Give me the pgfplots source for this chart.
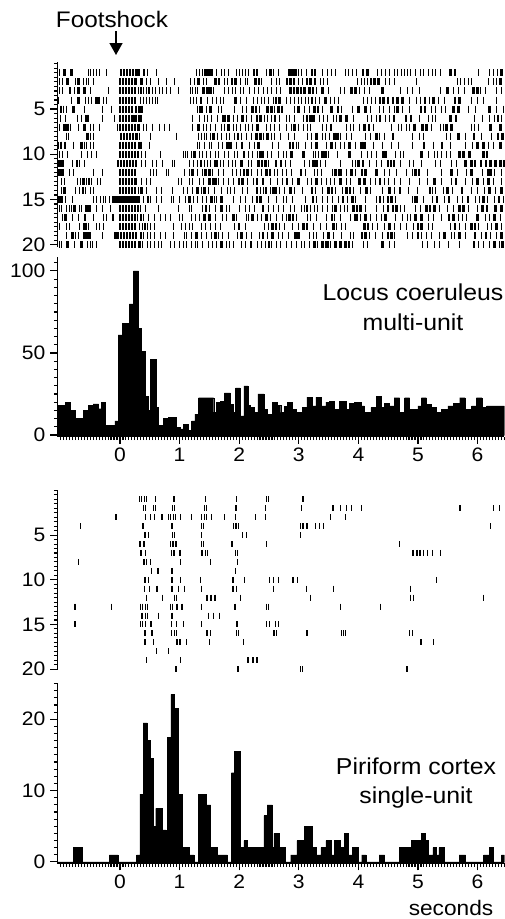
\documentclass[border=0pt]{standalone}
\usepackage{pgfplots}
\pgfplotsset{compat=1.18}
\usepackage{fontspec}
\setmainfont{Liberation Sans}[FakeStretch=1.08]
\usetikzlibrary{arrows.meta}

\makeatletter
\newcommand\rrow[4]{%
  \gdef\rr@pts{}%
  \foreach \t in {#2}{\xdef\rr@pts{\rr@pts(\t,#1)}}%
  \edef\rr@tmp{\noexpand\addplot[#4thin] coordinates {\rr@pts};}\rr@tmp
  \if\relax\detokenize{#3}\relax\else
  \gdef\rr@pts{}%
  \foreach \t in {#3}{\xdef\rr@pts{\rr@pts(\t,#1)}}%
  \edef\rr@tmp{\noexpand\addplot[#4thick] coordinates {\rr@pts};}\rr@tmp
  \fi}
\makeatother

\pgfplotsset{
  base/.style={scale only axis, width=447pt, xmin=-1.05, xmax=6.45,
    tick align=outside, major tick length=7pt, minor tick length=3.5pt,
    every tick/.style={black, line width=1.1pt},
    axis line style={line width=1.5pt},
    tick label style={font=\fontsize{19.5}{20}\selectfont},
    yticklabel style={xshift=-1.5pt},
    xticklabel style={yshift=-1pt},
    /pgf/number format/assume math mode=true},
  raster/.style={base, axis y line*=left, axis x line=none, y dir=reverse,
    xtick=\empty, ytick={5,10,15,20}, minor ytick={0,0.5,...,20}},
  hist/.style={base, axis y line*=left, axis x line*=bottom,
    xtick={0,...,6}, minor xtick={-1,-0.95,...,6.45}},
  lcthin/.style={only marks, mark=|, mark size=3.5pt, mark options={line width=1pt, black}},
  lcthick/.style={only marks, mark=|, mark size=3.5pt, mark options={line width=2.6pt, black}},
  pcthin/.style={only marks, mark=|, mark size=3pt, mark options={line width=0.9pt, black}},
  pcthick/.style={only marks, mark=|, mark size=3pt, mark options={line width=2pt, black}},
}

\begin{document}
\begin{tikzpicture}
\useasboundingbox (0pt,0pt) rectangle (505pt,-919pt);

% ---------- Locus coeruleus raster ----------
\begin{axis}[raster, at={(280.9pt,-154.5pt)}, anchor=center, height=185pt, ymin=-0.2, ymax=20.25]
\rrow{1}{-1.02,-0.53,-0.49,-0.44,-0.40,-0.34,-0.22,0.47,0.62,1.28,1.33,1.38,1.62,1.70,1.76,1.82,1.95,2.00,2.05,2.10,2.16,2.46,2.58,2.66,2.99,3.05,3.13,3.40,3.48,3.55,3.61,3.78,3.84,3.90,3.97,4.32,4.38,4.45,4.52,4.61,4.66,4.72,4.77,4.82,4.88,4.95,5.04,5.10,5.17,5.24,5.30,5.37,6.02,6.20,6.27,6.34}{-0.93,-0.81,0.02,0.07,0.12,0.17,0.22,0.27,0.31,0.40,1.43,1.49,1.54,2.25,2.30,2.53,2.84,2.89,2.94,3.22,3.27,4.08,4.15,5.55,5.62,6.40}{lc}
\rrow{2}{-1.01,-0.96,-0.75,-0.62,-0.57,-0.52,-0.45,0.45,0.51,0.64,0.78,0.92,1.18,1.25,1.40,1.46,1.75,1.80,2.02,2.10,2.14,2.38,2.55,2.62,2.68,2.99,3.06,3.36,3.42,3.48,3.98,4.06,4.11,4.16,4.45,4.52,4.60,4.98,5.66,5.72,5.78,5.85,5.90,6.18,6.26,6.31}{-0.88,-0.70,0.00,0.05,0.10,0.15,0.20,0.26,0.36,1.32,1.60,1.66,1.88,1.94,2.27,2.33,2.80,2.86,2.92,3.14,3.20,3.27,4.21,4.27,4.34,6.38}{lc}
\rrow{3}{-1.02,-0.97,-0.76,-0.58,-0.49,-0.20,0.31,0.40,0.45,0.54,0.60,0.66,0.72,0.78,0.85,0.98,1.18,1.22,1.27,1.30,1.57,1.75,1.82,1.88,1.93,2.02,2.08,2.18,2.26,2.32,2.40,2.47,2.55,2.62,2.70,3.30,3.50,3.70,3.76,4.02,4.10,4.18,4.70,4.82,4.90,5.02,5.38,5.60,5.68,5.78,6.05,6.14,6.32,6.40}{-0.84,-0.70,-0.60,0.00,0.05,0.10,0.15,0.20,0.25,0.35,0.49,1.40,1.47,1.52,2.86,2.92,2.98,3.04,3.10,3.18,3.24,3.40,3.88,3.95,4.40,5.50,5.93,6.00}{lc}
\rrow{4}{-1.03,-0.82,-0.72,-0.58,-0.52,-0.47,-0.28,-0.22,0.34,0.40,0.44,0.50,0.55,0.60,0.63,1.18,1.23,1.28,1.47,1.55,1.62,1.68,1.74,2.02,2.12,2.24,2.31,2.38,2.43,2.50,2.57,2.80,2.86,2.93,3.00,3.05,3.12,3.17,3.28,3.35,3.53,3.60,3.66,4.08,4.15,4.22,4.28,4.85,4.98,5.05,5.20,5.34,5.44,5.90,6.00,6.10,6.32}{-0.70,-0.40,-0.36,0.00,0.05,0.10,0.15,0.20,0.25,1.36,1.94,2.62,2.68,3.22,3.45,4.36,4.42,4.50,4.58,4.66,4.74,5.12,5.26,5.62,5.70}{lc}
\rrow{5}{-1.00,-0.95,-0.89,-0.60,-0.30,-0.14,0.31,0.38,1.30,1.39,1.46,1.66,1.71,1.92,2.05,2.12,2.34,2.60,2.92,3.10,3.18,3.40,3.72,3.90,4.20,4.36,4.42,4.52,4.60,4.74,4.85,5.22,5.30,5.40,5.47,5.84,5.96,6.32,6.44}{-0.99,-0.78,0.00,0.05,0.10,0.15,0.20,0.27,0.34,1.35,1.52,2.22,2.28,2.48,2.54,2.66,2.72,3.00,3.26,3.32,3.55,3.66,4.00,4.12,4.66,5.05,5.12,5.60,5.68,6.20}{lc}
\rrow{6}{-1.00,-0.92,-0.72,-0.65,-0.58,-0.52,-0.30,-0.10,0.36,1.22,1.34,1.41,1.47,1.54,1.64,1.72,1.91,1.98,2.12,2.20,2.43,2.48,2.55,2.67,2.79,2.85,2.92,3.08,3.35,3.42,3.48,3.58,3.64,3.92,4.16,4.22,4.30,4.46,4.52,5.02,5.18,5.24,5.30,5.95,6.08,6.20,6.28,6.40}{-0.56,0.00,0.05,0.10,0.15,0.21,0.26,0.33,1.75,1.82,2.06,2.30,2.36,2.60,3.14,3.20,3.25,3.70,3.80,4.36,4.60,4.80,4.88,5.55,5.64,6.34}{lc}
\rrow{7}{-1.02,-0.83,-0.70,-0.49,-0.44,-0.35,-0.04,0.39,0.45,0.55,0.66,0.74,0.83,1.21,1.40,1.46,1.52,1.60,1.70,1.76,1.90,1.96,2.02,2.10,2.16,2.22,2.46,2.52,2.60,2.68,2.80,2.87,3.00,3.08,3.15,3.20,3.40,3.46,3.80,3.86,3.92,4.02,4.26,4.56,4.68,4.72,4.80,4.86,4.96,5.22,5.37,5.42,5.90,5.95,6.02}{-0.93,-0.88,-0.60,0.00,0.05,0.10,0.15,0.20,0.25,0.31,1.32,1.82,2.31,2.93,3.54,4.10,4.18,4.94,5.08,5.14,5.48,5.56,6.22,6.38}{lc}
\rrow{8}{-0.90,-0.86,-0.57,-0.50,-0.45,0.33,0.52,0.95,1.32,1.36,1.41,1.46,1.52,1.64,1.70,1.78,1.84,1.92,2.04,2.12,2.20,2.41,2.54,2.60,2.70,2.82,2.92,3.14,3.22,3.40,3.45,3.52,3.70,3.80,3.88,4.12,4.20,4.36,4.43,4.90,5.02,5.10,5.48,5.54,5.80,6.06,6.24}{-0.54,0.02,0.07,0.12,0.17,0.22,0.28,1.57,1.98,2.29,2.36,2.48,3.30,3.60,3.65,4.30,4.58,5.68,5.94,6.34,6.42}{lc}
\rrow{9}{-1.03,-0.98,-0.78,-0.60,-0.56,-0.50,-0.45,0.36,0.50,1.30,1.34,1.42,1.50,1.54,1.66,1.72,1.96,2.18,2.25,2.56,2.66,2.96,3.00,3.12,3.22,3.46,3.62,3.70,3.76,3.95,4.25,4.40,4.55,4.68,4.90,5.26,5.55,5.80,5.92,6.18,6.26}{-0.99,-0.92,-0.65,0.00,0.05,0.10,0.15,0.20,0.25,0.33,1.80,1.85,2.05,2.32,2.85,2.90,3.30,3.55,3.85,4.05,4.10,5.10,5.40,6.00,6.10,6.38}{lc}
\rrow{10}{-1.02,-0.96,-0.88,-0.65,-0.55,-0.48,-0.40,0.36,0.42,0.68,1.06,1.10,1.14,1.20,1.27,1.33,1.38,1.45,1.52,1.60,1.66,1.75,1.82,1.92,1.98,2.15,2.22,2.30,2.48,2.54,2.66,2.74,2.80,3.24,3.28,3.33,3.50,3.65,4.06,4.16,4.22,4.30,4.62,4.70,4.76,5.18,5.28,5.33,5.40,5.48,5.54}{0.00,0.05,0.10,0.15,0.20,0.25,0.30,1.24,2.08,2.36,2.40,2.88,3.08,3.40,3.45,3.85,4.42,4.46,5.06,5.70,5.76,5.86,6.10,6.16}{lc}
\rrow{11}{-0.95,-0.80,-0.68,-0.60,0.36,0.42,0.54,0.62,0.72,0.88,0.92,1.16,1.24,1.30,1.42,1.47,1.52,1.58,1.68,1.74,1.82,1.88,1.94,2.16,2.21,2.50,2.78,2.86,3.10,3.18,3.36,3.44,3.70,3.90,3.96,4.18,4.30,4.38,4.70,4.86,4.92,5.06,5.30,5.38,5.56,5.64}{-1.02,-0.98,-0.72,-0.03,0.02,0.07,0.12,0.17,0.22,0.27,1.36,1.62,2.04,2.32,2.38,2.44,2.62,2.70,3.25,3.30,4.00,4.08,4.50,4.55,4.60,5.80,5.90,5.96,6.06,6.14,6.22,6.30,6.38,6.44}{lc}
\rrow{12}{-1.00,-0.85,-0.78,-0.45,-0.30,0.51,0.56,0.62,0.78,0.82,1.08,1.16,1.30,1.38,1.48,1.56,1.66,1.74,1.88,1.95,2.03,2.20,2.30,2.38,2.60,2.64,2.72,2.80,2.88,3.12,3.26,3.32,3.38,3.56,3.72,3.80,3.96,4.44,4.52,4.64,4.80,4.90,5.16,5.40,5.66,5.82,6.08,6.28,6.40}{-1.03,-0.96,0.00,0.05,0.10,0.15,0.20,0.25,1.22,1.43,1.50,2.08,2.14,2.46,2.52,3.04,3.62,3.68,3.88,4.06,4.12,4.30,4.96,5.02,5.56,5.90,6.18,6.22}{lc}
\rrow{13}{-0.98,-0.93,-0.72,-0.66,-0.56,-0.48,-0.38,-0.33,0.36,0.45,0.52,0.99,1.04,1.16,1.22,1.34,1.40,1.66,1.74,1.82,1.90,2.14,2.24,2.52,2.64,2.72,2.90,3.15,3.22,3.38,3.46,3.54,3.60,3.80,3.86,4.20,4.28,4.44,4.50,4.60,4.70,4.86,5.02,5.16,5.40,5.56,5.80,5.92,6.10,6.26,6.40}{-0.61,-0.52,0.00,0.05,0.10,0.15,0.20,0.26,1.50,1.56,1.60,2.00,2.06,2.30,2.40,2.80,3.00,3.30,3.70,4.02,4.10,4.36,5.28,5.64,6.00,6.18}{lc}
\rrow{14}{-0.98,-0.75,-0.68,-0.58,-0.50,-0.44,0.31,0.38,0.45,0.62,0.70,0.88,1.06,1.14,1.22,1.36,1.48,1.58,1.70,1.80,1.86,1.92,2.05,2.14,2.36,2.40,2.52,2.68,2.76,2.92,3.06,3.28,3.40,3.62,3.74,3.92,4.04,4.20,4.40,4.60,4.84,5.00,5.24,5.30,5.42,5.58,5.90,6.00,6.12,6.30}{-0.93,-0.62,0.00,0.05,0.10,0.15,0.20,0.25,0.35,1.30,1.42,2.30,2.45,2.58,2.62,2.86,3.22,3.50,3.56,3.80,3.86,4.14,4.52,4.70,5.20,5.50,5.74,6.20,6.40}{lc}
\rrow{15}{-0.92,-0.80,-0.45,-0.40,-0.33,-0.28,-0.24,-0.17,-0.13,0.40,0.52,0.62,0.70,0.86,0.90,1.00,1.10,1.24,1.30,1.38,1.46,1.58,1.62,1.90,2.02,2.10,2.22,2.50,2.62,2.74,2.80,2.90,3.12,3.30,3.40,3.48,3.56,3.66,3.82,3.96,4.12,4.30,4.42,4.62,4.90,5.00,5.10,5.24,5.44,5.66,5.74,5.96,6.04,6.16,6.28,6.44}{-1.02,-0.98,-0.09,-0.04,0.01,0.06,0.11,0.16,0.21,0.26,0.31,0.47,1.17,1.54,1.70,2.30,2.36,3.24,3.74,3.90,4.36,4.50,4.56,4.96,5.32,5.52,5.84,6.10,6.36}{lc}
\rrow{16}{-1.02,-0.98,-0.90,-0.85,-0.82,-0.68,-0.64,-0.58,-0.40,-0.30,-0.16,0.34,0.42,0.64,0.98,1.16,1.20,1.38,1.50,1.60,1.78,1.84,2.00,2.10,2.18,2.26,2.50,2.58,2.66,2.74,2.86,2.92,3.04,3.10,3.20,3.26,3.32,3.40,3.48,3.56,3.70,3.76,3.82,4.12,4.30,4.42,4.70,4.78,4.96,5.04,5.36,5.50,5.60,5.84,6.00}{-0.76,-0.55,-0.50,0.00,0.05,0.10,0.15,0.20,0.25,0.30,1.44,1.70,2.40,3.14,3.62,3.92,3.98,4.04,4.50,4.58,4.64,5.14,5.20,5.28,5.70,5.76,6.08,6.16,6.30,6.40}{lc}
\rrow{17}{-0.96,-0.80,-0.70,-0.44,-0.28,-0.22,0.30,0.40,0.48,0.58,0.68,0.76,0.84,1.00,1.05,1.20,1.26,1.34,1.60,1.72,1.78,1.96,2.12,2.16,2.30,2.38,2.52,2.62,2.72,2.80,2.96,3.14,3.20,3.30,3.46,3.60,3.70,3.86,4.04,4.20,4.30,4.38,4.62,4.74,4.82,4.88,5.18,5.26,5.40,5.68,5.74,5.82,6.14,6.20,6.38}{-0.91,-0.59,-0.12,0.00,0.05,0.10,0.15,0.20,0.25,0.35,1.42,1.50,1.90,2.22,2.46,2.84,2.90,3.56,3.94,3.98,4.12,4.46,4.96,5.06,5.52,5.60,6.00,6.28}{lc}
\rrow{18}{-1.02,-0.90,-0.85,-0.68,-0.62,-0.56,-0.52,-0.40,-0.34,-0.28,0.32,0.38,0.46,0.52,0.58,0.90,1.04,1.10,1.16,1.22,1.36,1.44,1.52,1.60,1.68,1.92,2.10,2.42,2.50,2.68,2.76,2.90,3.00,3.24,3.36,3.46,3.64,3.72,3.78,4.24,4.32,4.44,4.60,4.70,4.80,4.92,5.18,5.24,5.54,5.70,5.80,6.02,6.16,6.24,6.40}{-0.60,0.00,0.05,0.10,0.15,0.20,0.25,0.42,2.00,2.56,2.62,3.08,3.14,3.58,4.10,4.16,4.52,5.00,5.06,5.62,5.90,5.96,6.32}{lc}
\rrow{19}{-0.90,-0.75,-0.70,-0.30,0.40,0.47,0.52,0.58,0.68,0.76,0.90,1.08,1.12,1.20,1.36,1.46,1.54,1.66,1.72,1.82,1.98,2.12,2.20,2.34,2.48,2.66,2.72,2.82,3.18,3.24,3.30,3.42,3.58,3.72,3.86,3.92,4.18,4.28,4.40,4.60,4.82,4.90,5.06,5.14,5.22,5.36,5.56,5.62,5.80,6.06,6.22,6.32}{-0.80,-0.60,-0.55,-0.50,-0.08,-0.03,0.02,0.07,0.12,0.17,0.22,0.27,0.35,1.28,1.60,2.04,2.40,2.56,2.94,3.00,3.50,4.06,4.12,4.50,4.56,5.00,5.44,5.70,5.96,6.14,6.40}{lc}
\rrow{20}{-1.02,-0.98,-0.76,-0.54,-0.50,-0.46,-0.40,0.38,0.46,0.52,0.58,0.64,0.70,0.84,0.92,1.00,1.06,1.12,1.20,1.26,1.30,1.38,1.48,1.56,1.62,1.78,1.84,1.90,2.04,2.10,2.30,2.38,2.44,2.54,2.62,2.70,2.80,2.88,2.96,3.04,3.10,3.18,3.32,3.44,3.54,3.90,4.08,4.16,4.52,4.60,5.08,5.16,5.28,5.36,5.52,5.70,6.02,6.10,6.20,6.36}{-0.88,-0.65,0.00,0.05,0.10,0.15,0.20,0.25,0.33,1.70,2.20,2.50,3.26,3.40,3.48,3.62,3.70,3.78,3.84,4.40,5.94,6.28,6.42}{lc}
\end{axis}

% ---------- Locus coeruleus histogram ----------
\begin{axis}[hist, at={(280.9pt,-346.8pt)}, anchor=center, height=179.6pt, ymin=-1, ymax=108.5,
  ytick={0,50,100}, minor ytick={0,5,...,105}]
\addplot[fill=black, draw=black, line width=0.4pt, const plot] coordinates {
(-1.05,18) (-0.92,20) (-0.84,15) (-0.755,10) (-0.64,8) (-0.615,15) (-0.53,18) (-0.45,19)
(-0.36,16) (-0.31,20) (-0.25,6) (-0.085,8.6) (-0.03,61) (0.045,68) (0.157,80) (0.224,100)
(0.313,65) (0.364,51) (0.42,23.5) (0.475,15) (0.515,46) (0.604,17) (0.643,6) (0.727,10)
(0.81,10.7) (0.95,4.5) (1.007,3.7) (1.06,6.5) (1.147,3) (1.2,8.6) (1.258,12.7) (1.32,22.7)
(1.573,14) (1.618,19.7) (1.685,20.7) (1.753,25.7) (1.854,18.7) (1.9,13.7) (1.94,28.7) (2.01,11.6)
(2.08,30) (2.146,18) (2.19,16.7) (2.247,13.7) (2.315,25) (2.416,15.7) (2.47,12.6) (2.556,19.7)
(2.64,18) (2.697,13.7) (2.753,17.3) (2.81,20) (2.893,15.7) (2.95,14) (3.06,17) (3.135,23)
(3.23,17.7) (3.287,23) (3.37,17.7) (3.455,20) (3.51,20.7) (3.596,15.7) (3.68,20.7) (3.79,15.7)
(3.85,19.3) (3.93,20) (4.045,17.7) (4.1,14) (4.21,16.7) (4.3,23.7) (4.38,16.7) (4.44,19.3)
(4.52,17.7) (4.6,22.7) (4.69,13.7) (4.775,22.7) (4.86,15.7) (5.0,17.7) (5.056,22.7) (5.14,18.7)
(5.225,16.7) (5.31,14) (5.39,15.7) (5.5,17.7) (5.59,19.3) (5.7,22.7) (5.79,15.7) (5.9,17.7)
(5.98,22.7) (6.07,16.7) (6.15,17.7) (6.45,17.7)} \closedcycle;
\end{axis}

% ---------- Piriform raster ----------
\begin{axis}[raster, at={(280.9pt,-580pt)}, anchor=center, height=180pt, ymin=-0.05, ymax=20.1]
\rrow{1}{0.324,0.364,0.403,0.436,0.587,1.426,1.946,2.461,2.494}{0.906,3.076}{pc}
\rrow{2}{0.392,0.431,0.559,0.593,0.878,0.917,1.409,1.454,1.930,1.957,2.444,3.048,3.691,3.803,3.887,4.055,6.264,6.359}{3.579,5.705}{pc}
\rrow{3}{0.431,0.503,0.570,0.811,0.850,0.895,0.934,1.007,1.202,1.370,1.409,1.454,1.538,1.745,1.930,2.276,2.444,3.523,3.775}{-0.073,0.699}{pc}
\rrow{4}{-0.671,1.370,1.398,1.902,1.985,3.020,3.272,3.345,3.412,6.208}{0.392,0.878,1.946,3.076,3.132}{pc}
\rrow{5}{0.475,0.878,0.906,1.359,2.053,2.125,3.020}{0.419}{pc}
\rrow{6}{0.839,1.370,1.404,2.450,4.687}{0.336,0.403,0.884,0.940,1.885}{pc}
\rrow{7}{0.419,0.867,1.426,1.465,1.930,1.974,5.089,5.162,5.246,5.369}{0.352,0.906,1.007,1.370,4.922,4.978,5.034}{pc}
\rrow{8}{-0.699,0.447,0.503,1.007,1.510,1.974}{0.403}{pc}
\rrow{9}{0.531,1.930}{0.632,0.867}{pc}
\rrow{10}{0.475,1.007,1.353,2.086,2.506,2.573,2.657,2.981,5.313}{0.419,0.867,1.902,2.908}{pc}
\rrow{11}{0.403,0.487,0.979,1.079,1.370,1.957,2.573,3.132,3.579,4.877}{0.615,0.867,1.902}{pc}
\rrow{12}{0.447,0.716,0.906,0.940,2.025,3.188,4.866,4.922,6.096}{1.454,1.527,1.594}{pc}
\rrow{13}{-0.772,-0.744,-0.140,0.336,0.375,0.419,0.459,0.839,0.884,1.370,2.461,2.489,3.691,4.362}{0.951,1.035,1.930}{pc}
\rrow{14}{0.419,0.459,0.643,1.482,1.566,1.661}{0.364,0.867}{pc}
\rrow{15}{-0.772,-0.744,0.336,0.375,0.419,0.867,0.951,1.063,1.370,2.461,2.506,2.612,2.657}{0.515,1.957}{pc}
\rrow{16}{0.867,0.906,0.951,1.510,1.946,1.985,2.629,3.719,3.747,3.781,4.855,4.911}{0.419,0.531,1.454,2.584,3.143}{pc}
\rrow{17}{0.559,1.107,1.493,2.069,5.257}{0.419,0.951,1.007,5.045}{pc}
\rrow{18}{0.604,0.811}{}{pc}
\rrow{19}{0.447,1.007}{2.153,2.226,2.304}{pc}
\rrow{20}{3.020,3.054}{0.934,1.974,4.810}{pc}
\end{axis}

% ---------- Piriform histogram ----------
\begin{axis}[hist, at={(280.9pt,-773.2pt)}, anchor=center, height=180.3pt, ymin=-0.2, ymax=25.07,
  ytick={0,10,20}, minor ytick={0,1,...,25}]
\addplot[fill=black, draw=black, line width=0.4pt, const plot] coordinates {
(-1.05,0) (-0.78,2) (-0.64,0) (-0.18,1) (-0.03,0) (0.28,1) (0.335,9.5) (0.39,19.5) (0.46,17)
(0.5,14.5) (0.55,5) (0.6,7.5) (0.71,4.5) (0.77,2) (0.8,17.5) (0.855,23.5) (0.91,21.5) (0.97,9.5)
(1.05,2) (1.16,1) (1.24,0) (1.31,9.5) (1.45,8) (1.52,2) (1.63,1) (1.8,0) (1.87,12.5) (1.92,15.5)
(2.02,2) (2.08,3) (2.135,2) (2.416,6.5) (2.47,8) (2.556,2) (2.584,4) (2.67,2) (2.78,0) (2.865,1)
(2.966,3) (3.09,5) (3.23,2) (3.286,1) (3.37,2) (3.455,3) (3.54,1) (3.6,3) (3.7,2) (3.76,4)
(3.83,1) (3.9,2) (3.99,0) (4.056,1) (4.13,0) (4.35,1) (4.44,0) (4.69,2) (4.89,3) (5.03,2)
(5.056,4) (5.12,3) (5.17,1) (5.25,2) (5.31,1) (5.35,2) (5.44,0) (5.69,1) (5.8,0) (6.1,1)
(6.2,2) (6.26,0) (6.4,1) (6.45,1)} \closedcycle;
\end{axis}

% ---------- annotations ----------
\node[font=\fontsize{22.5}{24}\selectfont, anchor=base] at (112pt,-27pt) {Footshock};
\draw[line width=1.5pt, -{Triangle[length=12pt,width=13pt]}] (116pt,-31pt) -- (116pt,-55pt);
\node[font=\fontsize{23}{24}\selectfont, anchor=base] at (413pt,-300pt) {Locus coeruleus};
\node[font=\fontsize{23}{24}\selectfont, anchor=base] at (413pt,-330pt) {multi-unit};
\node[font=\fontsize{23}{24}\selectfont, anchor=base] at (416pt,-774pt) {Piriform cortex};
\node[font=\fontsize{23}{24}\selectfont, anchor=base] at (416pt,-803pt) {single-unit};
\node[font=\fontsize{21}{22}\selectfont, anchor=base] at (451pt,-915pt) {seconds};
\end{tikzpicture}
\end{document}
